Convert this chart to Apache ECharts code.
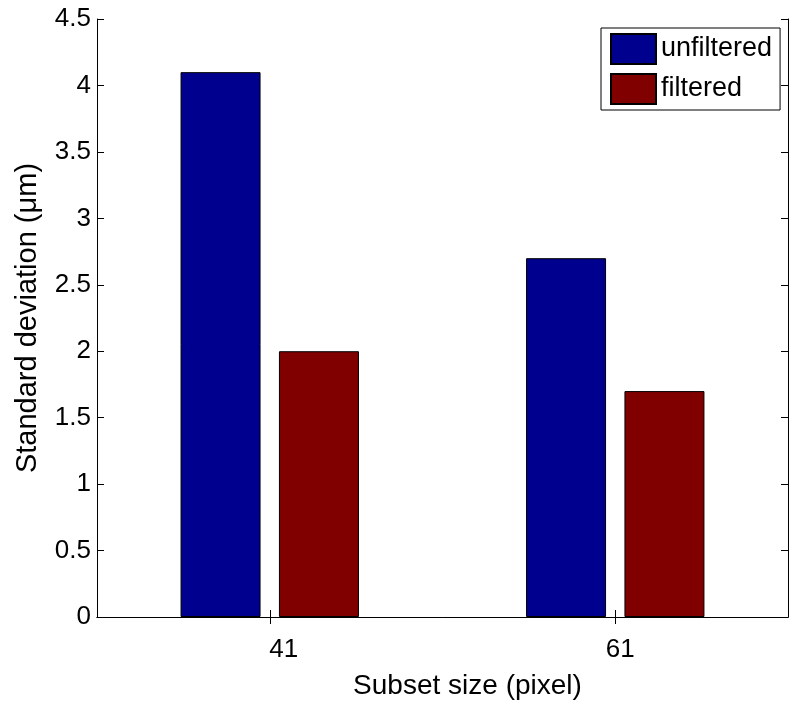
<!DOCTYPE html>
<html>
<head>
<meta charset="utf-8">
<script src="https://cdn.jsdelivr.net/npm/echarts@6/dist/echarts.min.js"></script>
<style>
  html, body { margin: 0; padding: 0; background: #fff; }
  #chart { width: 792px; height: 705px; }
</style>
</head>
<body>
<div id="chart"></div>
<script>
// Subset sizes on the x axis
const categories = ['41', '61'];
// Standard deviation per subset size
const unfiltered = [4.1, 2.7];
const filtered = [2.0, 1.7];
const seriesNames = ['unfiltered', 'filtered'];

const FONT = 'Liberation Sans, Arial, Helvetica, sans-serif';
const chart = echarts.init(document.getElementById('chart'), null, { renderer: 'canvas' });

const grid = { left: 97, top: 19, width: 691, height: 600, containLabel: false };
const tickStyle = { show: true, inside: true, length: 7, lineStyle: { color: '#000', width: 1 } };

chart.setOption({
  animation: false,
  backgroundColor: '#fff',
  textStyle: { fontFamily: FONT },
  grid: grid,
  legend: {
    data: seriesNames,
    left: 601,
    top: 28,
    orient: 'vertical',
    itemWidth: 45,
    itemHeight: 30,
    itemGap: 8,
    padding: [5, 8, 5, 9],
    backgroundColor: '#fff',
    borderColor: '#000',
    borderWidth: 1,
    icon: 'rect',
    textStyle: { fontFamily: FONT, fontSize: 27, color: '#000' }
  },
  xAxis: [
    {
      type: 'category',
      data: categories,
      boundaryGap: true,
      name: 'Subset size (pixel)',
      nameLocation: 'middle',
      nameGap: 55,
      nameTextStyle: { fontFamily: FONT, fontSize: 28, color: '#000', padding: [0, 0, 0, 50] },
      axisLine: { show: true, lineStyle: { color: '#000', width: 1 } },
      axisTick: Object.assign({ alignWithLabel: true }, tickStyle),
      axisLabel: {
        fontFamily: FONT, fontSize: 26, color: '#000', margin: 20,
        formatter: function (v) { return v === categories[0] ? '{a|' + v + '}' : '{b|' + v + '}'; },
        rich: {
          a: { fontFamily: FONT, fontSize: 26, color: '#000', padding: [0, 0, 0, 28] },
          b: { fontFamily: FONT, fontSize: 26, color: '#000', padding: [0, 0, 0, 10] }
        }
      },
      splitLine: { show: false }
    },
    {
      type: 'category',
      data: categories,
      position: 'top',
      boundaryGap: true,
      axisLine: { show: true, lineStyle: { color: '#000', width: 1 } },
      axisTick: Object.assign({ alignWithLabel: true }, tickStyle),
      axisLabel: { show: false },
      splitLine: { show: false }
    }
  ],
  yAxis: [
    {
      type: 'value',
      min: 0,
      max: 4.5,
      interval: 0.5,
      name: 'Standard deviation (\u03bcm)',
      nameLocation: 'middle',
      nameRotate: 90,
      nameGap: 55,
      nameTextStyle: { fontFamily: FONT, fontSize: 29, color: '#000' },
      axisLine: { show: true, lineStyle: { color: '#000', width: 1 } },
      axisTick: tickStyle,
      axisLabel: { fontFamily: FONT, fontSize: 26, color: '#000', margin: 6 },
      splitLine: { show: false }
    },
    {
      type: 'value',
      min: 0,
      max: 4.5,
      interval: 0.5,
      position: 'right',
      axisLine: { show: true, lineStyle: { color: '#000', width: 1 } },
      axisTick: tickStyle,
      axisLabel: { show: false },
      splitLine: { show: false }
    }
  ],
  series: [
    {
      name: seriesNames[0],
      type: 'bar',
      data: unfiltered,
      barWidth: 80,
      barGap: '23%',
      itemStyle: { color: '#00008f', borderColor: '#000', borderWidth: 1 }
    },
    {
      name: seriesNames[1],
      type: 'bar',
      data: filtered,
      barWidth: 80,
      barGap: '23%',
      itemStyle: { color: '#800000', borderColor: '#000', borderWidth: 1 }
    }
  ]
});
</script>
</body>
</html>
